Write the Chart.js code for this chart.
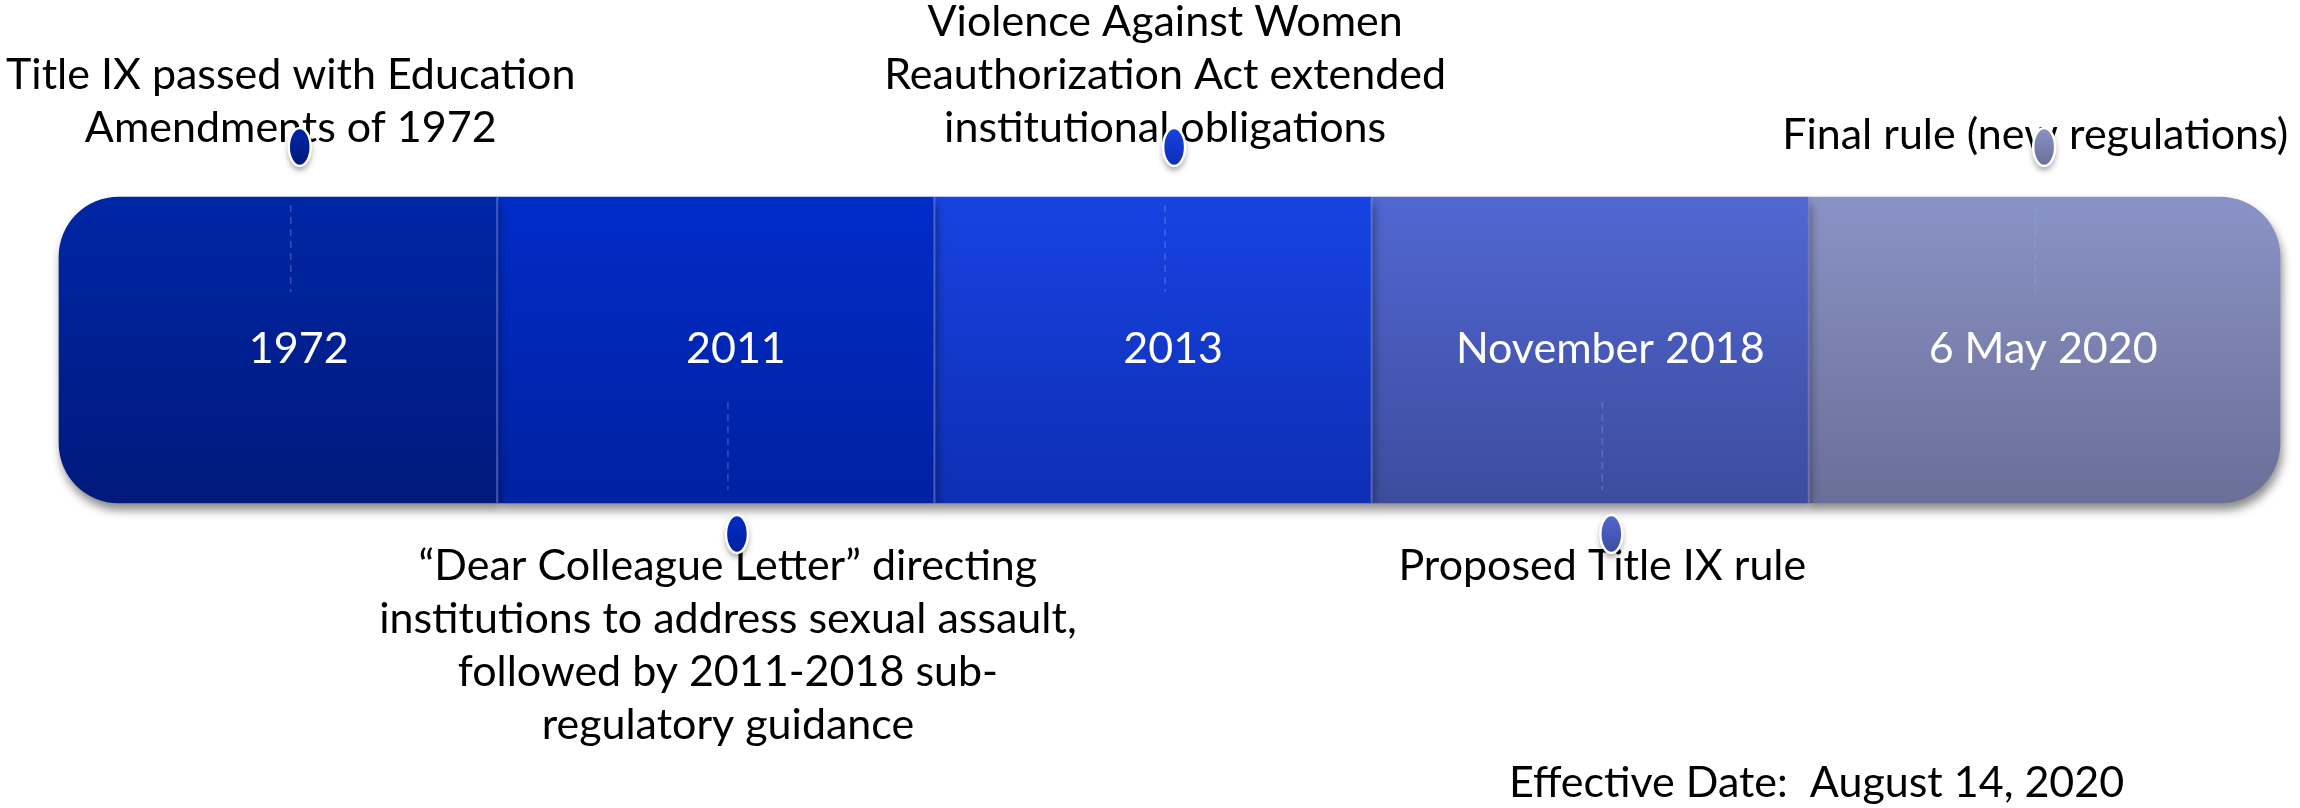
<!DOCTYPE html>
<html>
<head>
<meta charset="utf-8">
<script src="https://cdn.jsdelivr.net/npm/chart.js@4.4.1/dist/chart.umd.min.js"></script>
<style>
  html, body { margin: 0; padding: 0; background: #fff; }
  #wrap { width: 2300px; height: 808px; }
</style>
</head>
<body>
<div id="wrap"><canvas id="timeline" width="2300" height="808"></canvas></div>
<script>
// Title IX timeline: one stacked horizontal bar, one segment per period
const periods = ["1972", "2011", "2013", "November 2018", "6 May 2020"];
const spans = [1, 1, 1, 1, 1.08];                 // segment length on the timeline axis
const eventAt = [0.53, 1.53, 2.53, 3.53, 4.52];   // milestone position on the same axis
const eventSide = ["top", "bottom", "top", "bottom", "top"];
const eventText = [
  ["Title IX passed with Education", "Amendments of 1972"],
  ["\u201CDear Colleague Letter\u201D directing", "institutions to address sexual assault,",
   "followed by 2011-2018 sub-", "regulatory guidance"],
  ["Violence Against Women", "Reauthorization Act extended", "institutional obligations"],
  ["Proposed Title IX rule"],
  ["Final rule (new regulations)"],
];
const footnote = "Effective Date:  August 14, 2020";
const footnoteAt = 4.02;

const segTop = ["#0026a6", "#002cc8", "#1743e2", "#5167d2", "#8a93c6"];
const segBottom = ["#001a7c", "#0021a0", "#0e2eb4", "#3d4c9e", "#6a6f98"];

const FONT = "Lato, 'Open Sans', sans-serif";
const total = spans.reduce((a, b) => a + b, 0);
const lineGap = 53;

function segGradient(chart, i) {
  const area = chart.chartArea;
  if (!area) return segTop[i];
  const g = chart.ctx.createLinearGradient(0, area.top, 0, area.bottom);
  g.addColorStop(0, segTop[i]);
  g.addColorStop(1, segBottom[i]);
  return g;
}

function drawPin(ctx, x, y, i) {
  const rx = 11, ry = 19;
  ctx.save();
  ctx.shadowColor = "rgba(0,0,0,0.4)";
  ctx.shadowBlur = 6;
  ctx.shadowOffsetY = 4;
  const g = ctx.createLinearGradient(0, y - ry, 0, y + ry);
  g.addColorStop(0, segTop[i]);
  g.addColorStop(1, segBottom[i]);
  ctx.beginPath();
  ctx.ellipse(x, y, rx, ry, 0, 0, Math.PI * 2);
  ctx.fillStyle = g;
  ctx.fill();
  ctx.shadowColor = "transparent";
  ctx.lineWidth = 2.5;
  ctx.strokeStyle = "#ffffff";
  ctx.stroke();
  ctx.restore();
}

const timelinePlugin = {
  id: "timeline",
  beforeDatasetsDraw(chart) {
    // soft drop shadow under the bar
    const ctx = chart.ctx;
    ctx.save();
    ctx.shadowColor = "rgba(0,0,0,0.45)";
    ctx.shadowBlur = 10;
    ctx.shadowOffsetY = 7;
    ctx.shadowOffsetX = 2;
  },
  afterDatasetsDraw(chart) {
    const ctx = chart.ctx;
    ctx.restore();
    const area = chart.chartArea;
    const x = chart.scales.x;

    // light seams between segments
    ctx.save();
    ctx.strokeStyle = "rgba(120,140,225,0.55)";
    ctx.lineWidth = 2;
    for (let i = 1; i < periods.length; i++) {
      const bar = chart.getDatasetMeta(i).data[0];
      ctx.beginPath();
      ctx.moveTo(bar.base + 1, area.top);
      ctx.lineTo(bar.base + 1, area.bottom);
      ctx.stroke();
    }
    ctx.restore();

    // dashed connectors inside each segment
    ctx.save();
    ctx.setLineDash([7, 5]);
    ctx.lineWidth = 1.5;
    ctx.strokeStyle = "rgba(150,170,235,0.35)";
    eventAt.forEach((v, i) => {
      const px = x.getPixelForValue(v);
      const y0 = eventSide[i] === "top" ? area.top + 8 : area.top + 205;
      const y1 = eventSide[i] === "top" ? area.top + 95 : area.bottom - 13;
      ctx.beginPath();
      ctx.moveTo(px, y0);
      ctx.lineTo(px, y1);
      ctx.stroke();
    });
    ctx.restore();

    // period labels inside the bar
    ctx.save();
    ctx.font = `43px ${FONT}`;
    ctx.fillStyle = "#ffffff";
    ctx.textAlign = "center";
    ctx.textBaseline = "alphabetic";
    const midBase = (area.top + area.bottom) / 2 + 13;
    periods.forEach((p, i) => {
      ctx.fillText(p, x.getPixelForValue(eventAt[i]) + 8, midBase);
    });
    ctx.restore();

    // milestone descriptions above / below
    ctx.save();
    ctx.font = `43px ${FONT}`;
    ctx.fillStyle = "#000000";
    ctx.textAlign = "center";
    const nudge = [0, 0, 0, 0, 7];
    eventText.forEach((lines, i) => {
      const px = x.getPixelForValue(eventAt[i]);
      lines.forEach((ln, k) => {
        let y;
        if (eventSide[i] === "top") y = area.top - 55 - (lines.length - 1 - k) * lineGap + nudge[i];
        else y = area.bottom + 77 + k * lineGap;
        ctx.fillText(ln, px, y);
      });
    });
    ctx.fillText(footnote, x.getPixelForValue(footnoteAt), area.bottom + 294);
    ctx.restore();

    // pins
    eventAt.forEach((v, i) => {
      const px = x.getPixelForValue(v) + 9;
      const py = eventSide[i] === "top" ? area.top - 50 : area.bottom + 31;
      drawPin(ctx, px, py, i);
    });
  },
};

new Chart(document.getElementById("timeline"), {
  type: "bar",
  data: {
    labels: ["Title IX"],
    datasets: periods.map((p, i) => ({
      label: p,
      data: [spans[i]],
      backgroundColor: (c) => segGradient(c.chart, i),
      borderWidth: 0,
      borderSkipped: false,
      borderRadius: i === 0 ? { topLeft: 60, bottomLeft: 60 }
        : i === periods.length - 1 ? { topRight: 60, bottomRight: 60 } : 0,
      barPercentage: 1,
      categoryPercentage: 1,
      clip: false,
    })),
  },
  options: {
    indexAxis: "y",
    responsive: false,
    animation: false,
    layout: { padding: { left: 59, right: 20, top: 197, bottom: 305 } },
    plugins: { legend: { display: false }, tooltip: { enabled: false } },
    scales: {
      x: { stacked: true, min: 0, max: total, display: false },
      y: { stacked: true, display: false },
    },
  },
  plugins: [timelinePlugin],
});
</script>
</body>
</html>
